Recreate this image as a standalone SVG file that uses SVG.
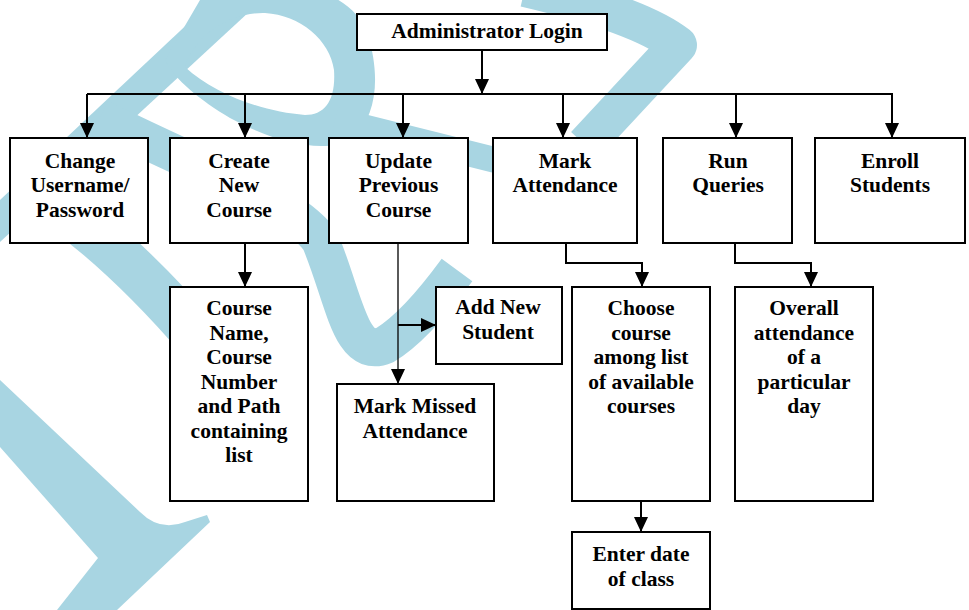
<svg xmlns="http://www.w3.org/2000/svg" width="969" height="610" viewBox="0 0 969 610">
<defs>
<marker id="ah" viewBox="0 0 15 14" markerWidth="15" markerHeight="14" refX="15" refY="7" orient="auto" markerUnits="userSpaceOnUse"><path d="M0,0 L15,7 L0,14 z" fill="#000"/></marker>
<style>
.box{fill:#fff;stroke:#000;stroke-width:2}
.t{font-family:"Liberation Serif","Times New Roman",serif;font-weight:bold;font-size:21.5px;fill:#000;text-anchor:middle}
.c{fill:none;stroke:#000;stroke-width:2}
.thin{stroke-width:1.3}
.wm{fill:#a8d5e2}
.wms{fill:none;stroke:#a8d5e2;stroke-linejoin:round}
</style>
</defs>
<rect width="969" height="610" fill="#fff"/>
<g id="watermark">
<path class="wm" d="M213,0 L262,0 L0,242 L0,200 Z"/>
<path class="wm" fill-rule="evenodd" d="M200,0 L215,-5 C280,-25 350,-15 368,35 C380,75 378,115 352,140 C320,155 270,140 230,118 C200,100 175,80 165,60 Z M185,67 C195,35 230,12 265,13 C300,15 330,40 334,70 C336,100 325,115 305,115 C265,112 215,95 185,67 Z"/>
<path class="wms" stroke-width="26" d="M335,120 L495,160"/>
<path class="wms" stroke-width="38" d="M100,118 C200,168 290,200 320,240 C345,300 350,360 385,345 C410,330 435,300 457,270"/>
<path class="wms" stroke-width="46" d="M20,180 Q110,235 200,340"/>
<path class="wm" d="M0,380 L140,512 Q160,532 185,522 L207,515 L210,522 L117,610 L57,610 L98,558 L0,447 Z"/>
<path class="wms" stroke-width="38" d="M525,-12 Q640,15 678,45 L585,145"/>
</g>
<g id="connectors">
<line class="c" x1="482" y1="50" x2="482" y2="94" marker-end="url(#ah)"/>
<line class="c" x1="87" y1="94" x2="893" y2="94"/>
<line class="c" x1="87" y1="94" x2="87" y2="138" marker-end="url(#ah)"/>
<line class="c" x1="245" y1="94" x2="245" y2="138" marker-end="url(#ah)"/>
<line class="c" x1="403" y1="94" x2="403" y2="138" marker-end="url(#ah)"/>
<line class="c" x1="563" y1="94" x2="563" y2="138" marker-end="url(#ah)"/>
<line class="c" x1="736" y1="94" x2="736" y2="138" marker-end="url(#ah)"/>
<line class="c" x1="892" y1="94" x2="892" y2="138" marker-end="url(#ah)"/>
<line class="c" x1="245" y1="243" x2="245" y2="287" marker-end="url(#ah)"/>
<line class="c thin" x1="398" y1="243" x2="398" y2="384" marker-end="url(#ah)"/>
<line class="c" x1="398" y1="325" x2="436" y2="325" marker-end="url(#ah)"/>
<path class="c" d="M566,243 V263 H642 V287" marker-end="url(#ah)"/>
<path class="c" d="M735,243 V263 H811 V287" marker-end="url(#ah)"/>
<line class="c" x1="641" y1="501" x2="641" y2="532" marker-end="url(#ah)"/>
</g>
<g id="admin"><rect class="box" x="357" y="14" width="250" height="36"/><text class="t" x="487" y="38">Administrator Login</text></g>
<g id="change"><rect class="box" x="10" y="138" width="138" height="105"/><text class="t"><tspan x="80" y="167.5">Change</tspan><tspan x="80" y="192">Username/</tspan><tspan x="80" y="216.5">Password</tspan></text></g>
<g id="create"><rect class="box" x="170" y="138" width="138" height="105"/><text class="t"><tspan x="239" y="167.5">Create</tspan><tspan x="239" y="192">New</tspan><tspan x="239" y="216.5">Course</tspan></text></g>
<g id="update"><rect class="box" x="329" y="138" width="139" height="105"/><text class="t"><tspan x="398.5" y="167.5">Update</tspan><tspan x="398.5" y="192">Previous</tspan><tspan x="398.5" y="216.5">Course</tspan></text></g>
<g id="mark"><rect class="box" x="493" y="138" width="144" height="105"/><text class="t"><tspan x="565" y="167.5">Mark</tspan><tspan x="565" y="192">Attendance</tspan></text></g>
<g id="run"><rect class="box" x="663" y="138" width="129" height="105"/><text class="t"><tspan x="728" y="167.5">Run</tspan><tspan x="728" y="192">Queries</tspan></text></g>
<g id="enroll"><rect class="box" x="815" y="138" width="150" height="105"/><text class="t"><tspan x="890" y="167.5">Enroll</tspan><tspan x="890" y="192">Students</tspan></text></g>
<g id="coursename"><rect class="box" x="170" y="287" width="138" height="214"/><text class="t"><tspan x="239" y="315">Course</tspan><tspan x="239" y="339.5">Name,</tspan><tspan x="239" y="364">Course</tspan><tspan x="239" y="388.5">Number</tspan><tspan x="239" y="413">and Path</tspan><tspan x="239" y="437.5">containing</tspan><tspan x="239" y="462">list</tspan></text></g>
<g id="addnew"><rect class="box" x="436" y="287" width="126" height="77"/><text class="t"><tspan x="498" y="314">Add New</tspan><tspan x="498" y="339">Student</tspan></text></g>
<g id="missed"><rect class="box" x="337" y="384" width="157" height="117"/><text class="t"><tspan x="415" y="413">Mark Missed</tspan><tspan x="415" y="438">Attendance</tspan></text></g>
<g id="choose"><rect class="box" x="572" y="287" width="138" height="214"/><text class="t"><tspan x="641" y="315">Choose</tspan><tspan x="641" y="339.5">course</tspan><tspan x="641" y="364">among list</tspan><tspan x="641" y="388.5">of available</tspan><tspan x="641" y="413">courses</tspan></text></g>
<g id="overall"><rect class="box" x="735" y="287" width="138" height="214"/><text class="t"><tspan x="804" y="315">Overall</tspan><tspan x="804" y="339.5">attendance</tspan><tspan x="804" y="364">of a</tspan><tspan x="804" y="388.5">particular</tspan><tspan x="804" y="413">day</tspan></text></g>
<g id="enterdate"><rect class="box" x="572" y="532" width="138" height="77"/><text class="t"><tspan x="641" y="561">Enter date</tspan><tspan x="641" y="586">of class</tspan></text></g>
</svg>
